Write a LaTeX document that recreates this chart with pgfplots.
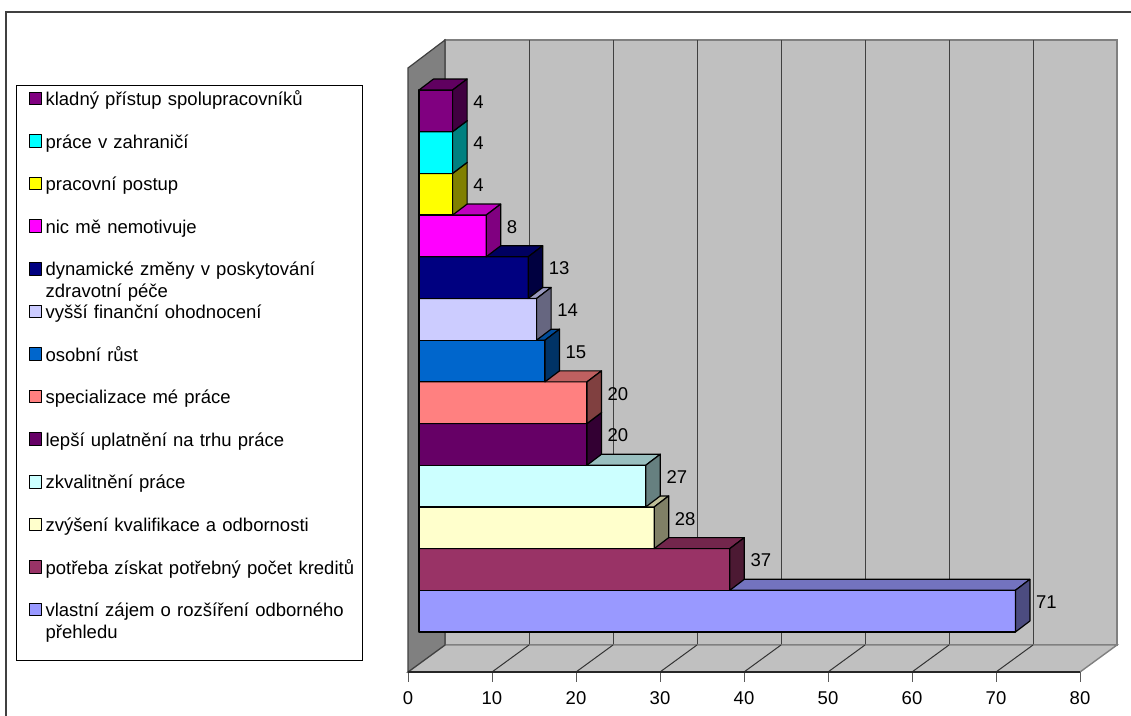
\documentclass[border=0pt]{standalone}
\usepackage{pgfplots}
\usepackage{pgfplotstable}
\pgfplotsset{compat=1.18}
\usepackage{fontspec}
\setmainfont{Liberation Sans}

% bar colours, from the bottom bar upwards
\definecolor{bar0}{HTML}{9999FF}
\definecolor{bar1}{HTML}{993366}
\definecolor{bar2}{HTML}{FFFFCC}
\definecolor{bar3}{HTML}{CCFFFF}
\definecolor{bar4}{HTML}{660066}
\definecolor{bar5}{HTML}{FF8080}
\definecolor{bar6}{HTML}{0066CC}
\definecolor{bar7}{HTML}{CCCCFF}
\definecolor{bar8}{HTML}{000080}
\definecolor{bar9}{HTML}{FF00FF}
\definecolor{bar10}{HTML}{FFFF00}
\definecolor{bar11}{HTML}{00FFFF}
\definecolor{bar12}{HTML}{800080}
\definecolor{wallback}{HTML}{C0C0C0}
\definecolor{wallside}{HTML}{808080}

\newcommand{\chartfont}{\fontsize{18.5}{21.5}\selectfont}

\tikzset{
  barface/.style={draw=black, line width=1.2pt, line join=round},
  valuelabel/.style={anchor=west, inner sep=0pt, xshift=6pt, font=\chartfont},
}

% number of answers per motive, bottom bar first
\pgfplotstableread{
row value
0 71
1 37
2 28
3 27
4 20
5 20
6 15
7 14
8 13
9 8
10 4
11 4
12 4
}\barsdata

\begin{document}
\begin{tikzpicture}
\useasboundingbox (0,0) rectangle (1131pt,715pt);
\draw[black!75, line width=1.4pt] (6pt,703pt) rectangle (1145pt,-20pt);
\begin{axis}[
  at={(408pt,43pt)}, anchor=south west,
  scale only axis, width=672pt, height=632pt,
  xmin=0, xmax=80, ymin=0, ymax=632,
  clip=false,
  axis on top,
  axis x line*=bottom, axis y line=none,
  x axis line style={black!85, line width=1.1pt},
  xtick={0,10,...,80},
  major tick length=0pt,
  xticklabel style={font=\chartfont, anchor=base, yshift=-32pt},
  /pgf/number format/assume math mode=true,
  legend image code/.code={%
    \path (0pt,0pt);
    \draw[#1, draw=black, line width=1pt] (5pt,12.7pt) rectangle (17.7pt,25.3pt);},
  legend style={
    at={(axis description cs:-0.58333,0.92880)}, anchor=north west,
    draw=black, line width=1pt, fill=white,
    inner xsep=7pt, inner ysep=0pt,
    row sep=-21.4pt, column sep=3.3pt,
    font=\chartfont,
    nodes={inner sep=0pt, text width=310pt, align=left,
           text height=20pt, text depth=44pt},
  },
  legend cell align=left,
  reverse legend,
  legend entries={
    vlastní zájem o rozšíření odborného přehledu,
    potřeba získat potřebný počet kreditů,
    zvýšení kvalifikace a odbornosti,
    zkvalitnění práce,
    lepší uplatnění na trhu práce,
    specializace mé práce,
    osobní růst,
    vyšší finanční ohodnocení,
    dynamické změny v poskytování zdravotní péče,
    nic mě nemotivuje,
    pracovní postup,
    práce v zahraničí,
    kladný přístup spolupracovníků},
]
% back wall with its gridlines
\addplot[forget plot, fill=wallback, draw=wallside, line width=1.4pt]
  coordinates {(4.405,27) (84.405,27) (84.405,632) (4.405,632)} --cycle;
\addplot[forget plot, draw=black!75, line width=1pt] coordinates {(14.405,27) (14.405,632)};
\addplot[forget plot, draw=black!75, line width=1pt] coordinates {(24.405,27) (24.405,632)};
\addplot[forget plot, draw=black!75, line width=1pt] coordinates {(34.405,27) (34.405,632)};
\addplot[forget plot, draw=black!75, line width=1pt] coordinates {(44.405,27) (44.405,632)};
\addplot[forget plot, draw=black!75, line width=1pt] coordinates {(54.405,27) (54.405,632)};
\addplot[forget plot, draw=black!75, line width=1pt] coordinates {(64.405,27) (64.405,632)};
\addplot[forget plot, draw=black!75, line width=1pt] coordinates {(74.405,27) (74.405,632)};
% floor
\addplot[forget plot, fill=wallback, draw=wallside, line width=1.4pt]
  coordinates {(0,0) (80,0) (84.405,27) (4.405,27)} --cycle;
\addplot[forget plot, draw=black!80, line width=1pt] coordinates {(10,0) (14.405,27)};
\addplot[forget plot, draw=black!80, line width=1pt] coordinates {(20,0) (24.405,27)};
\addplot[forget plot, draw=black!80, line width=1pt] coordinates {(30,0) (34.405,27)};
\addplot[forget plot, draw=black!80, line width=1pt] coordinates {(40,0) (44.405,27)};
\addplot[forget plot, draw=black!80, line width=1pt] coordinates {(50,0) (54.405,27)};
\addplot[forget plot, draw=black!80, line width=1pt] coordinates {(60,0) (64.405,27)};
\addplot[forget plot, draw=black!80, line width=1pt] coordinates {(70,0) (74.405,27)};
% tick marks below the front edge of the floor
\addplot[forget plot, ycomb, mark=none, draw=black!65, line width=1pt]
  coordinates {(0,-10) (10,-10) (20,-10) (30,-10) (40,-10) (50,-10) (60,-10) (70,-10) (80,-10)};
% left wall
\addplot[forget plot, fill=wallside, draw=black!75, line width=1.2pt]
  coordinates {(0,0) (0,604) (4.405,632) (4.405,27)} --cycle;
% bars: front, top and side faces, drawn from the bottom up
\pgfplotsinvokeforeach{0,...,12}{%
  \pgfplotstablegetelem{#1}{value}\of\barsdata
  \pgfmathsetmacro{\ya}{40+41.69*#1}
  \pgfmathsetmacro{\yc}{\ya+41.69}
  \pgfmathsetmacro{\yad}{\ya+11}
  \pgfmathsetmacro{\ycd}{\yc+11}
  \pgfmathsetmacro{\xe}{1.31+\pgfplotsretval}
  \pgfmathsetmacro{\xed}{\xe+1.726}
  \pgfmathsetmacro{\yl}{\ya+20.85+9}
  \edef\barfaces{%
    \noexpand\addplot[barface, fill=bar#1]
      coordinates {(1.31,\ya) (\xe,\ya) (\xe,\yc) (1.31,\yc)} --cycle;
    \noexpand\addplot[barface, forget plot, fill=bar#1!75!black]
      coordinates {(1.31,\yc) (\xe,\yc) (\xed,\ycd) (3.036,\ycd)} --cycle;
    \noexpand\addplot[barface, forget plot, fill=bar#1!50!black]
      coordinates {(\xe,\ya) (\xed,\yad) (\xed,\ycd) (\xe,\yc)} --cycle;
    \noexpand\node[valuelabel] at (axis cs:\xed,\yl) {\pgfplotsretval};
  }%
  \barfaces
}
\end{axis}
\end{tikzpicture}
\end{document}
